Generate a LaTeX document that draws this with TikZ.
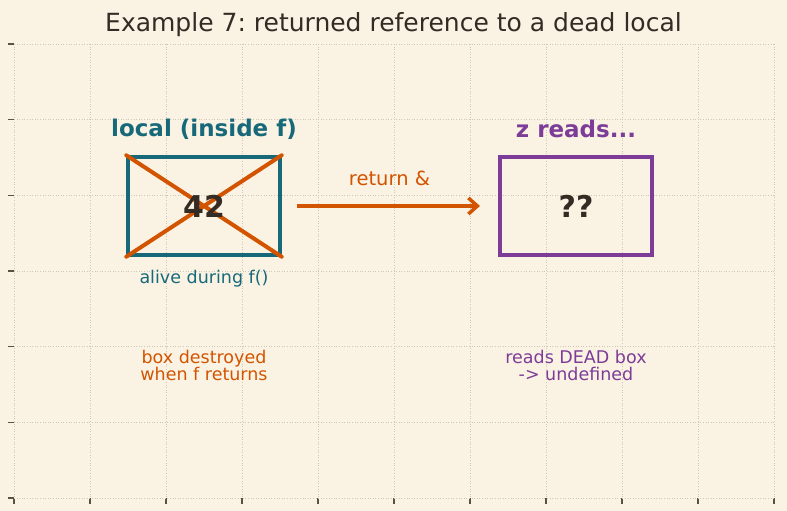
\documentclass[tikz,border=0pt]{standalone}
\usepackage{fontspec}
\setmainfont{DejaVu Sans}
\usetikzlibrary{arrows.meta}
\definecolor{bg}{HTML}{FAF3E4}
\definecolor{gridc}{HTML}{CFC7B6}
\definecolor{tickc}{HTML}{5A5142}
\definecolor{tealc}{HTML}{17697A}
\definecolor{orangec}{HTML}{D35400}
\definecolor{purplec}{HTML}{7D3C98}
\definecolor{darkc}{HTML}{332B24}
\frenchspacing
\tikzset{
  gridline/.style={gridc, line width=0.8pt, dash pattern=on 1pt off 1.6pt},
  tickline/.style={tickc, line width=1.5pt},
  memorybox/.style={draw, line width=3.5pt, minimum width=152pt, minimum height=98pt, inner sep=0pt, font=\bfseries\fontsize{30}{33}\selectfont, text=darkc},
  crossline/.style={orangec, line width=4pt, line cap=round},
  headlabel/.style={font=\bfseries\fontsize{23}{26}\selectfont},
  notelabel/.style={font=\fontsize{17.5}{20}\selectfont, align=center},
}
\begin{document}
\begin{tikzpicture}[x=1pt,y=-1pt]
\fill[bg] (0,0) rectangle (787,511);
\useasboundingbox (0,0) rectangle (787,511);
% grid
\foreach \gx in {14,90,166,242,318,394,470,546,622,698,774} {
  \draw[gridline] (\gx,44) -- (\gx,498);
  \draw[tickline] (\gx,498) -- (\gx,504);
}
\foreach \gy in {44,119.7,195.3,271,346.7,422.3,498} {
  \draw[gridline] (14,\gy) -- (774,\gy);
  \draw[tickline] (8,\gy) -- (14,\gy);
}
% title
\node[text=darkc, font=\fontsize{25}{28}\selectfont] (title) at (393.5,25) {Example 7: returned reference to a dead local};
% left box
\node[memorybox, draw=tealc] (local) at (204,206) {};
\draw[crossline] (local.north west) -- (local.south east);
\draw[crossline] (local.south west) -- (local.north east);
\node[text=darkc, font=\bfseries\fontsize{30}{33}\selectfont] (val) at (local.center) {42};
\node[headlabel, text=tealc] (localhead) at (204,129) {local (inside f)};
\node[notelabel, text=tealc] (alive) at (204,279) {alive during f()};
\node[notelabel, text=orangec] (destroyed) at (204,365) {box destroyed\\[-3pt]when f returns};
% right box
\node[memorybox, draw=purplec] (zbox) at (576,206) {??};
\node[headlabel, text=purplec] (zhead) at (576,129) {z reads...};
\node[notelabel, text=purplec] (dead) at (576,365) {reads DEAD box\\[-3pt]-> undefined};
% arrow
\coordinate (astart) at (297,206);
\coordinate (aend) at (480,206);
\draw[orangec, line width=3.5pt, -{Straight Barb[length=9pt, width=16pt, line width=3.5pt]}] (astart) -- (aend);
\node[notelabel, text=orangec, font=\fontsize{19.5}{22}\selectfont] (retlabel) at (389.5,178) {return \&};
\end{tikzpicture}
\end{document}
